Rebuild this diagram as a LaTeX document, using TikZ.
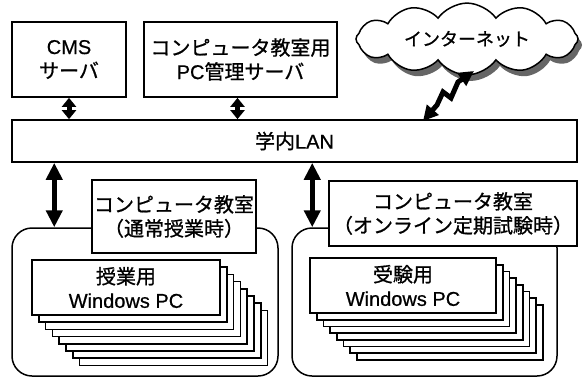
\documentclass[tikz,border=0pt]{standalone}
\usepackage{fontspec}
\setmainfont[FakeBold=0.6]{Liberation Sans}
\newfontfamily\jp[FakeBold=0.9]{Noto Sans CJK JP}
\usetikzlibrary{arrows.meta,shapes.symbols,shadows,calc}
\begin{document}
\begin{tikzpicture}[x=1pt,y=-1pt,
  box/.style={draw,line width=1.7pt,fill=white,align=center,inner sep=0pt,font=\fontsize{20}{24}\selectfont},
  pcbox/.style={draw,line width=1.7pt,fill=white,inner sep=0pt,minimum height=55pt},
  room/.style={draw,line width=1.5pt,rounded corners=20pt,inner sep=0pt},
  bigarrow/.style={line width=5.5pt,{Triangle[width=16pt,length=17pt]}-{Triangle[width=16pt,length=17pt]}},
  smallarrow/.style={line width=5pt,{Triangle[width=14pt,length=9pt]}-{Triangle[width=14pt,length=9pt]}},
  boltarrow/.style={line width=5pt,line join=miter,{Triangle[width=15pt,length=15pt]}-{Triangle[width=15pt,length=15pt]}}]
\useasboundingbox (0,0) rectangle (586,378);

% servers
\node[box,minimum width=114pt,minimum height=75pt] (cms) at (69,59.5) {CMS\\{\jp サーバ}};
\node[box,minimum width=193pt,minimum height=75pt] (pcs) at (240.5,59.5) {{\jp コンピュータ教室用}\\PC{\jp 管理サーバ}};

% cloud
\node[cloud,draw,fill=white,line width=1.5pt,cloud puffs=12,cloud puff arc=110,aspect=3.6,
      minimum width=222pt,minimum height=62pt,inner sep=0pt,
      drop shadow={fill=black!60,shadow xshift=4pt,shadow yshift=-6pt,opacity=1},
      font=\jp\fontsize{18}{22}\selectfont] (net) at (467,39) {インターネット};

% LAN
\node[box,minimum width=565pt,minimum height=42pt] (lan) at (294.5,141) {{\jp 学内}LAN};

% rooms
\node[room,minimum width=266pt,minimum height=148pt] (roomL) at (145,302) {};
\node[room,minimum width=265pt,minimum height=148pt] (roomR) at (424.5,302) {};

% stacks left
\foreach \i in {7,6,...,1}{
  \node[pcbox,minimum width=188pt] (L\i) at (126+6.8*\i,287.5+7.2*\i) {};
}
\node[box,minimum width=188pt,minimum height=55pt] (L0) at (126,287.5) {{\jp 授業用}\\Windows PC};

% stacks right
\foreach \i in {7,6,...,1}{
  \node[pcbox,minimum width=186pt] (R\i) at (403+6.7*\i,285.5+6.7*\i) {};
}
\node[box,minimum width=186pt,minimum height=55pt] (R0) at (403,285.5) {{\jp 受験用}\\Windows PC};

% room labels
\node[box,minimum width=164pt,minimum height=73pt] (labL) at (174,216.5) {{\jp コンピュータ教室}\\{\jp （通常授業時）}};
\node[box,minimum width=248pt,minimum height=65pt] (labR) at (453,213.5) {{\jp コンピュータ教室}\\{\jp （オンライン定期試験時）}};

% arrows
\draw[smallarrow] (cms.south) -- (cms.south |- lan.north);
\coordinate (pa) at ([xshift=-3pt]pcs.south);
\draw[smallarrow] (pa) -- (pa |- lan.north);

\coordinate (ra) at ($(roomL.north west)+(43,0)$);
\draw[bigarrow] (ra |- lan.south) -- (ra);
\coordinate (rb) at ($(roomR.north west)+(21,0)$);
\draw[bigarrow] (rb |- lan.south) -- (rb);

% lightning
\coordinate (b0) at (423,121);
\coordinate (b1) at (437,105);
\coordinate (b2) at (443,92);
\coordinate (b3) at (451,98);
\coordinate (b4) at (458,82);
\coordinate (b5) at (474,71);
\draw[boltarrow] (b0) -- (b1) -- (b2) -- (b3) -- (b4) -- (b5);
\end{tikzpicture}
\end{document}
